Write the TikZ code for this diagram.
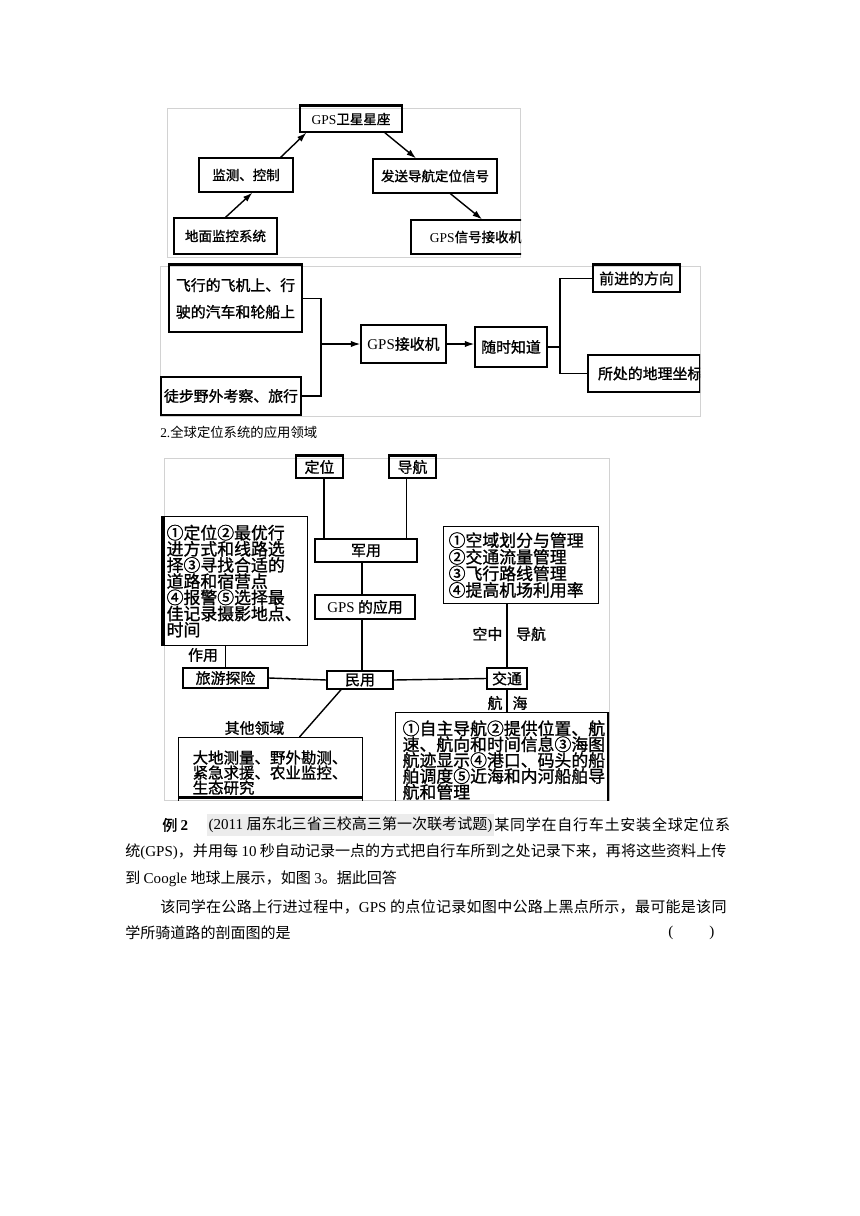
\documentclass[tikz,border=0pt]{standalone}
\usepackage{fontspec}
\setmainfont{Noto Sans CJK SC}
\newfontfamily\latfont{Liberation Serif}
\newfontfamily\boxfont{Noto Sans CJK SC}[FakeBold=1.2]
\usetikzlibrary{arrows.meta, positioning, calc}
\newlength{\pxu}
\setlength{\pxu}{0.025cm}
\newcommand{\en}[1]{{\latfont #1}}
\newcommand{\spread}[1]{\addfontfeatures{LetterSpace=#1}}
\tikzset{
  frame/.style={draw=gray!35, line width=0.6pt},
  box/.style={
    rectangle,
    draw,
    line width=0.9pt,
    inner sep=0pt,
    align=center
  },
  boxa/.style={box, font={\boxfont\fontsize{9.6pt}{11pt}\selectfont}},
  boxb/.style={box, font={\boxfont\fontsize{10.6pt}{19pt}\selectfont}},
  boxc/.style={box, font={\boxfont\fontsize{10.6pt}{12pt}\selectfont}},
  info/.style={box, align=left, font={\boxfont\fontsize{12pt}{11.5pt}\selectfont\lineskiplimit=-8pt}},
  lab/.style={inner sep=0pt, font={\boxfont\fontsize{10.6pt}{12pt}\selectfont}},
  txt/.style={anchor=west, inner sep=0pt, font={\fontsize{10.7pt}{12pt}\selectfont}},
  shade/.style={txt, fill=gray!15, inner xsep=1pt, inner ysep=2.5pt},
  heavy/.style={line width=2.2pt},
  link/.style={line width=1pt},
  arrow/.style={-{Latex[length=2.4mm, width=1.6mm]}, line width=1pt}
}
\begin{document}
\begin{tikzpicture}[x=0.025cm, y=-0.025cm]
  \useasboundingbox (0,0) rectangle (860,1216);

  % picture frames
  \draw[frame] (167,108) rectangle (520,257);
  \draw[frame] (160,266) rectangle (700,416);
  \draw[frame] (164,458) rectangle (609,800);

  % satellite chain
  \begin{scope}
    \clip (150,95) rectangle (521,270);
    \node[boxa, minimum width=102\pxu, minimum height=26\pxu] (sat) at (351,119) {\en{GPS}卫星星座};
    \node[boxa, minimum width=94\pxu, minimum height=34\pxu] (mon) at (246,175) {监测、控制};
    \node[boxa, minimum width=124\pxu, minimum height=34\pxu] (send) at (435,176) {发送导航定位信号};
    \node[boxa, minimum width=103\pxu, minimum height=36\pxu] (ground) at (225.5,236) {地面监控系统};
    \node[boxa, minimum width=130\pxu, minimum height=34\pxu] (recv) at (476,237) {\en{GPS}信号接收机};
    \draw[heavy] (sat.north west) -- (sat.north east);
    \draw[arrow] (ground.north) -- (mon.-70);
    \draw[arrow] (mon.27) -- (sat.197);
    \draw[arrow] (sat.-22) -- (send.137);
    \draw[arrow] (send.-49) -- (recv.71);
  \end{scope}

  % receiver chain
  \begin{scope}
    \clip (150,255) rectangle (700,420);
    \node[boxb, minimum width=133\pxu, minimum height=67\pxu] (fly) at (235.5,298.5) {飞行的飞机上、行\\驶的汽车和轮船上};
    \node[boxb, minimum width=140\pxu, minimum height=38\pxu] (walk) at (231,396) {徒步野外考察、旅行};
    \node[boxb, minimum width=85\pxu, minimum height=38\pxu] (gpsr) at (403.5,344) {\en{GPS}接收机};
    \node[boxb, minimum width=72\pxu, minimum height=40\pxu] (know) at (511,347) {随时知道};
    \node[boxb, minimum width=87\pxu, minimum height=27\pxu] (dir) at (636.5,278.5) {前进的方向};
    \node[boxb, minimum height=37\pxu, text width=92\pxu, inner xsep=10\pxu, align=left] (coord) at (644,373.5) {所处的地理坐标};
    \coordinate (join) at (321,344);
    \coordinate (split) at (560,347);
    \draw[link] (fly.east) -| (join);
    \draw[link] (walk.east) -| (join);
    \draw[arrow] (join) -- (gpsr.west);
    \draw[arrow] (gpsr.east) -- (gpsr.east -| know.west);
    \draw[link] (know.east) -- (split);
    \draw[link] (dir.west) -| (split) |- (coord.west);
    \draw[heavy] (fly.north west) -- (fly.north east);
    \draw[heavy] (dir.north west) -- (dir.north east);
  \end{scope}

  \node[txt, font={\fontsize{9.5pt}{11pt}\selectfont}] (cap) at (160,432) {\en{2.}全球定位系统的应用领域};

  % application areas
  \begin{scope}
    \clip (150,445) rectangle (609,800);
    \node[boxc, minimum width=47\pxu, minimum height=22\pxu] (pos) at (319.5,467) {定位};
    \node[boxc, minimum width=47\pxu, minimum height=22\pxu] (navi) at (412.5,467) {导航};
    \node[boxc, minimum width=102\pxu, minimum height=23\pxu] (mil) at (366,550.5) {军用};
    \node[boxc, minimum width=100\pxu, minimum height=24\pxu] (app) at (365,607) {\en{GPS} 的应用};
    \node[info, anchor=north west, text width=138\pxu, inner xsep=3\pxu, minimum height=129\pxu] (tourinfo) at (163,516)
      {①定位②最优行\\进方式和线路选\\择③寻找合适的\\道路和宿营点\\④报警⑤选择最\\佳记录摄影地点、\\时间};
    \node[info, anchor=north west, text width=145\pxu, inner xsep=5\pxu, minimum height=77\pxu,
      font={\boxfont\fontsize{12pt}{11.8pt}\selectfont\lineskiplimit=-8pt}] (airinfo) at (443,526)
      {①空域划分与管理\\②交通流量管理\\③飞行路线管理\\④提高机场利用率};
    \node[boxc, minimum width=85\pxu, minimum height=20\pxu] (tour) at (225.5,678) {旅游探险};
    \node[boxc, minimum width=66\pxu, minimum height=18\pxu] (civ) at (360,680) {民用};
    \node[boxc, minimum width=40\pxu, minimum height=21\pxu] (traf) at (507,678.5) {交通};
    \node[info, anchor=north west, text width=198\pxu, inner xsep=7\pxu, minimum height=95\pxu,
      font={\boxfont\fontsize{12pt}{11.3pt}\selectfont\lineskiplimit=-8pt}] (seainfo) at (395,712)
      {①自主导航②提供位置、航\\速、航向和时间信息③海图\\航迹显示④港口、码头的船\\舶调度⑤近海和内河船舶导\\航和管理};
    \node[info, anchor=north west, text width=156\pxu, inner xsep=14\pxu, minimum height=70\pxu,
      font={\boxfont\fontsize{11pt}{10.7pt}\selectfont\lineskiplimit=-8pt}] (other) at (178,737)
      {大地测量、野外勘测、\\紧急求援、农业监控、\\生态研究};

    \coordinate (posfoot) at ($(pos.south)+(4.5,0)$);
    \coordinate (navfoot) at ($(navi.south)+(-6,0)$);
    \coordinate (milfoot) at ($(mil.south)+(-4,0)$);
    \draw[link] (posfoot) -- (posfoot |- mil.north);
    \draw[link] (navfoot) -- (navfoot |- mil.north);
    \draw[link] (milfoot) -- (milfoot |- app.north);
    \draw[link] (milfoot |- app.south) -- (milfoot |- civ.north);
    \draw[link] (tour.north) -- (tour.north |- tourinfo.south);
    \draw[link] (tour.east) -- (civ.west);
    \draw[link] (civ.east) -- (traf.west);
    \draw[link] (traf.north) -- (traf.north |- airinfo.south);
    \draw[link] (traf.south) -- (traf.south |- seainfo.north);
    \draw[link] (civ.207) -- (other.51);

    \draw[heavy] (pos.north west) -- (pos.north east);
    \draw[heavy] (navi.north west) -- (navi.north east);
    \draw[heavy] (tourinfo.north west) -- (tourinfo.south west);
    \draw[heavy] (seainfo.north east) -- (seainfo.south east);
    \draw[heavy] ($(other.south west)+(0,-11)$) -- ($(other.south east)+(0,-11)$);

    \node[lab] (rolelab) at (203,655) {作用};
    \node[lab] (otherlab) at (254.5,728) {其他领域};
    \node[lab] (airlab) at (487.5,634) {空中};
    \node[lab] (navlab) at (531,634) {导航};
    \node[lab] (sealeft) at (495,703) {航};
    \node[lab] (searight) at (520,703) {海};
  \end{scope}

  % example text
  \node[txt, font={\boxfont\fontsize{10.7pt}{12pt}\selectfont}] (ex) at (162,825) {例 \en{\bfseries 2}};
  \node[shade] (src) at (207,825) {\en{(2011} 届东北三省三校高三第一次联考试题\en{)}};
  \node[txt, right=0pt of src] (l1) {\spread{4.8}某同学在自行车土安装全球定位系};
  \node[txt] (l2) at (125,852) {统\en{(GPS)}，并用每 \en{10} 秒自动记录一点的方式把自行车所到之处记录下来，再将这些资料上传};
  \node[txt] (l3) at (125,879) {到 \en{Coogle} 地球上展示，如图 \en{3}。据此回答};
  \node[txt] (l4) at (160,907) {\spread{1.7}该同学在公路上行进过程中，\en{GPS} 的点位记录如图中公路上黑点所示，最可能是该同};
  \node[txt] (l5) at (125,933) {学所骑道路的剖面图的是};
  \node[txt] (blank) at (668,933) {\en{(}\hspace{36\pxu}\en{)}};
\end{tikzpicture}
\end{document}
